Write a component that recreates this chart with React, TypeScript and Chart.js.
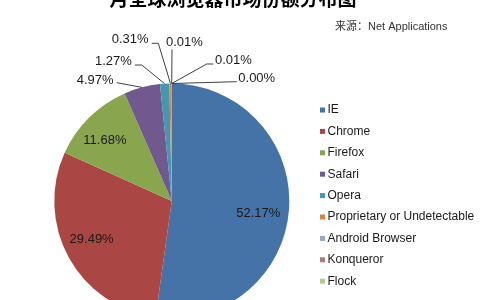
import React, { useEffect, useRef } from 'react';
import { Chart, registerables } from 'chart.js';

Chart.register(...registerables);

const TITLE = '月全球浏览器市场份额分布图';
const SOURCE = '来源：Net Applications';

const browsers = [
  'IE',
  'Chrome',
  'Firefox',
  'Safari',
  'Opera',
  'Proprietary or Undetectable',
  'Android Browser',
  'Konqueror',
  'Flock',
];
const shares = [52.17, 29.49, 11.68, 4.97, 1.27, 0.31, 0.01, 0.01, 0.0];
const colors = [
  '#4572A7',
  '#AA4643',
  '#89A54E',
  '#71588F',
  '#4198AF',
  '#DB843D',
  '#93A9CF',
  '#A47D7C',
  '#B5CA92',
];

// label placement (layout only)
type Inside = { kind: 'in'; r: number; dx: number; dy: number };
type Outside = { kind: 'out'; x: number; y: number; path: number[][] };
const labelLayout: (Inside | Outside)[] = [
  { kind: 'in', r: 0.755, dx: -2, dy: 6 },
  { kind: 'in', r: 0.755, dx: -2.5, dy: -4.5 },
  { kind: 'in', r: 0.755, dx: -4.5, dy: 2.5 },
  { kind: 'out', x: 76.7, y: 80.7, path: [[116.7, 82.7]] },
  { kind: 'out', x: 95, y: 61.7, path: [[135, 65], [141.7, 65]] },
  { kind: 'out', x: 111.7, y: 39.5, path: [[151.7, 43.3], [158.3, 43.3]] },
  { kind: 'out', x: 166, y: 42.3, path: [[172, 49.3]] },
  { kind: 'out', x: 215, y: 60, path: [[213.3, 64], [206.7, 64]] },
  { kind: 'out', x: 238.3, y: 78.3, path: [[236.7, 81.7]] },
];

const W = 480;
const H = 340;
const LABEL_FONT = '13px "Liberation Sans", Arial, sans-serif';
const LEGEND_FONT = '12px "Liberation Sans", Arial, sans-serif';

const decorPlugin = {
  id: 'decor',
  beforeDraw(chart: any) {
    const ctx = chart.ctx;
    ctx.save();
    ctx.fillStyle = '#ffffff';
    ctx.fillRect(0, 0, chart.width, chart.height);
    ctx.restore();
  },
  afterDraw(chart: any) {
    const ctx = chart.ctx;
    const meta = chart.getDatasetMeta(0);
    ctx.save();

    // title (cropped at top)
    ctx.fillStyle = '#000000';
    ctx.font = 'bold 19px "Noto Sans CJK SC", sans-serif';
    ctx.textAlign = 'center';
    ctx.textBaseline = 'middle';
    ctx.fillText(TITLE, 233, -1);

    // source
    ctx.fillStyle = '#333333';
    ctx.font = '11px "Liberation Sans", "Noto Sans CJK SC", sans-serif';
    ctx.textAlign = 'left';
    ctx.fillText(SOURCE, 335, 26.5);

    // data labels
    ctx.font = LABEL_FONT;
    meta.data.forEach((arc: any, i: number) => {
      const p = arc.getProps(['x', 'y', 'startAngle', 'endAngle', 'outerRadius'], true);
      const mid = (p.startAngle + p.endAngle) / 2;
      const text = shares[i].toFixed(2) + '%';
      const lay = labelLayout[i];
      ctx.fillStyle = '#1a1a1a';
      if (lay.kind === 'in') {
        const r = p.outerRadius * lay.r;
        ctx.textAlign = 'center';
        ctx.textBaseline = 'middle';
        ctx.fillText(text, p.x + r * Math.cos(mid) + lay.dx, p.y + r * Math.sin(mid) + lay.dy);
      } else {
        ctx.textAlign = 'left';
        ctx.textBaseline = 'middle';
        ctx.fillText(text, lay.x, lay.y);
        const ex = p.x + p.outerRadius * Math.cos(mid);
        const ey = p.y + p.outerRadius * Math.sin(mid);
        ctx.strokeStyle = '#404040';
        ctx.lineWidth = 1;
        ctx.beginPath();
        lay.path.forEach((pt, k) => {
          if (k === 0) ctx.moveTo(pt[0], pt[1]);
          else ctx.lineTo(pt[0], pt[1]);
        });
        ctx.lineTo(ex, ey);
        ctx.stroke();
      }
    });

    // legend
    ctx.font = LEGEND_FONT;
    ctx.textAlign = 'left';
    ctx.textBaseline = 'middle';
    browsers.forEach((name, i) => {
      const cy = 110 + i * 21.4;
      ctx.fillStyle = colors[i];
      ctx.fillRect(320, cy - 2.5, 5, 5);
      ctx.fillStyle = '#1a1a1a';
      ctx.fillText(name, 327.5, cy);
    });

    ctx.restore();
  },
};

export default function App() {
  const ref = useRef<HTMLCanvasElement>(null);
  useEffect(() => {
    if (!ref.current) return;
    const chart = new Chart(ref.current, {
      type: 'pie',
      data: {
        labels: browsers,
        datasets: [
          {
            data: shares,
            backgroundColor: colors,
            borderWidth: 0,
          },
        ],
      },
      options: {
        responsive: false,
        animation: false,
        layout: { padding: { left: 54.3, top: 83.5, right: 190.7, bottom: 21.5 } },
        plugins: {
          legend: { display: false },
          tooltip: { enabled: false },
          title: { display: false },
        },
      },
      plugins: [decorPlugin],
    });
    return () => chart.destroy();
  }, []);
  return (
    <div
      style={{
        position: 'fixed',
        left: 0,
        top: 0,
        width: W,
        height: 300,
        overflow: 'hidden',
        background: '#fff',
      }}
    >
      <canvas ref={ref} width={W} height={H} style={{ display: 'block', width: W, height: H }} />
    </div>
  );
}
